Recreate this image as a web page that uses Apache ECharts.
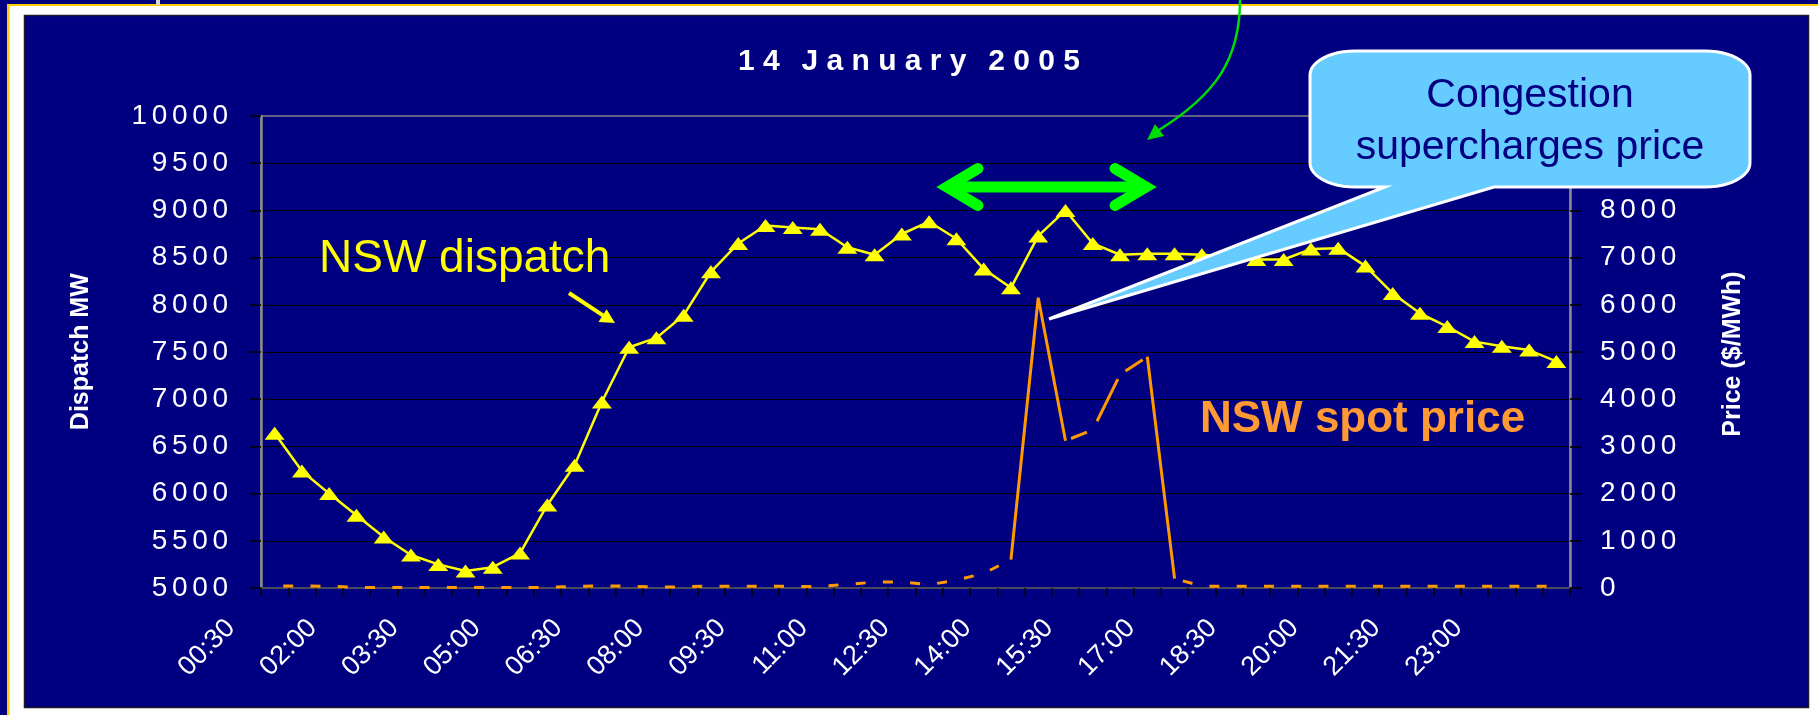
<!DOCTYPE html>
<html>
<head>
<meta charset="utf-8">
<script src="https://cdn.jsdelivr.net/npm/echarts@6/dist/echarts.min.js"></script>
<style>
html,body{margin:0;padding:0;background:#ffffff;}
#chart{width:1818px;height:715px;}
</style>
</head>
<body>
<div id="chart"></div>
<script>
// ---------- data ----------
const titleText = "14 January 2005";
const times = ["00:30","01:00","01:30","02:00","02:30","03:00","03:30","04:00","04:30","05:00","05:30","06:00",
  "06:30","07:00","07:30","08:00","08:30","09:00","09:30","10:00","10:30","11:00","11:30","12:00",
  "12:30","13:00","13:30","14:00","14:30","15:00","15:30","16:00","16:30","17:00","17:30","18:00",
  "18:30","19:00","19:30","20:00","20:30","21:00","21:30","22:00","22:30","23:00","23:30","24:00"];
const dispatchMW = [6640,6240,6000,5770,5540,5350,5250,5180,5220,5370,5880,6300,
  6970,7550,7650,7890,8350,8650,8840,8820,8800,8610,8530,8750,
  8880,8700,8380,8180,8730,9000,8650,8530,8540,8540,8530,8510,
  8480,8480,8590,8600,8410,8120,7910,7770,7610,7560,7520,7400];
const spotPrice = [42,42,38,12,8,8,8,8,8,8,12,35,
  46,40,20,25,40,35,35,35,32,75,125,130,
  70,165,310,600,6150,3120,3350,4520,4900,200,40,35,
  38,35,36,35,38,35,36,38,35,36,35,35];
const dispatchAxis = {min:5000, max:10000, step:500};
const priceAxis = {min:0, max:10000, step:1000};
// which price segments look solid / long-dashed in the original
const solidIdx = [27,28,29,32,33];
const longDashIdx = [29,30,31,32];

// ---------- helpers ----------
const FONT = '"Liberation Sans", Arial, sans-serif';
function spaceOut(s, gap, wordGap){
  return s.split(' ').map(w => w.split('').join(gap)).join(wordGap);
}
const lowPrice = spotPrice.map((v,i) => (i <= 27 || i >= 33) ? v : null);
const solidPrice = spotPrice.map((v,i) => solidIdx.indexOf(i) >= 0 ? v : null);
const midPrice = spotPrice.map((v,i) => longDashIdx.indexOf(i) >= 0 ? v : null);

// callout outline: rounded box (elliptical corners) with a pointer wedge
function calloutPoints(x1, y1, x2, y2, rx, ry, wedgeL, wedgeR, tip){
  const pts = [];
  function arc(cx, cy, a0, a1){
    const n = 12;
    for (let k = 0; k <= n; k++){
      const a = a0 + (a1 - a0) * k / n;
      pts.push([cx + rx * Math.cos(a), cy + ry * Math.sin(a)]);
    }
  }
  arc(x2 - rx, y1 + ry, -Math.PI/2, 0);
  arc(x2 - rx, y2 - ry, 0, Math.PI/2);
  pts.push([wedgeR, y2]); pts.push(tip); pts.push([wedgeL, y2]);
  arc(x1 + rx, y2 - ry, Math.PI/2, Math.PI);
  arc(x1 + rx, y1 + ry, Math.PI, Math.PI*1.5);
  return pts;
}

const chart = echarts.init(document.getElementById('chart'), null, {renderer:'canvas'});

const option = {
  animation: false,
  backgroundColor: '#ffffff',
  title: {
    text: spaceOut(titleText, ' ', '  \u2006'),
    left: 'center',
    top: 42,
    textStyle: {color:'#ffffff', fontSize:30, fontWeight:'bold', fontFamily:FONT, lineHeight:30}
  },
  grid: {
    left: 261, right: 248, top: 116, bottom: 127,
    show: true, borderColor: '#808080', borderWidth: 1.5, backgroundColor: 'transparent',
    containLabel: false
  },
  xAxis: {
    type: 'category',
    data: times,
    boundaryGap: true,
    axisLine: {show:true, lineStyle:{color:'#404050', width:1.5}},
    axisTick: {show:true, interval:0, length:8, lineStyle:{color:'#000000', width:1.5}},
    axisLabel: {
      interval: 2, rotate: 45, color:'#ffffff', fontSize:27, fontFamily:FONT,
      margin: -8, padding: [0, 62, 0, 0]
    },
    splitLine: {show:false}
  },
  yAxis: [
    {
      type: 'value', position: 'left',
      min: dispatchAxis.min, max: dispatchAxis.max, interval: dispatchAxis.step,
      axisLine: {show:true, lineStyle:{color:'#8a8a8a', width:2.5}},
      axisTick: {show:true, length:11, lineStyle:{color:'#000000', width:1.5}},
      axisLabel: {color:'#ffffff', fontSize:28, fontFamily:FONT, margin:33,
        formatter: v => spaceOut(String(v), '\u2006', ' ')},
      splitLine: {show:true, showMinLine:false, showMaxLine:false, lineStyle:{color:'#000000', width:1.2}}
    },
    {
      type: 'value', position: 'right',
      min: priceAxis.min, max: priceAxis.max, interval: priceAxis.step,
      axisLine: {show:true, lineStyle:{color:'#8a8a8a', width:2.5}},
      axisTick: {show:true, length:12, lineStyle:{color:'#000000', width:1.5}},
      axisLabel: {color:'#ffffff', fontSize:28, fontFamily:FONT, margin:30,
        formatter: v => spaceOut(String(v), '\u2006', ' ')},
      splitLine: {show:false}
    }
  ],
  series: [
    {
      name: 'NSW spot price (low)', type: 'line', yAxisIndex: 1, data: lowPrice,
      showSymbol: false, symbol: 'none', connectNulls: false, z: 2, silent: true,
      lineStyle: {color:'#FF9900', width:3, type:[10, 17.27], dashOffset:18.67}
    },
    {
      name: 'NSW spot price (spike)', type: 'line', yAxisIndex: 1, data: solidPrice,
      showSymbol: false, symbol: 'none', connectNulls: false, z: 2, silent: true,
      lineStyle: {color:'#FF9900', width:3}
    },
    {
      name: 'NSW spot price (mid)', type: 'line', yAxisIndex: 1, data: midPrice,
      showSymbol: false, symbol: 'none', connectNulls: false, z: 2, silent: true,
      lineStyle: {color:'#FF9900', width:3, type:[17, 16, 47, 11.5, 20.5, 100], dashOffset:206}
    },
    {
      name: 'NSW dispatch', type: 'line', yAxisIndex: 0, data: dispatchMW,
      symbol: 'triangle', symbolSize: [20, 13], showAllSymbol: true, z: 3, silent: true,
      itemStyle: {color:'#FFFF00', borderWidth:0},
      lineStyle: {color:'#FFFF00', width:2.5}
    }
  ],
  graphic: [
    // slide frame
    {type:'rect', z:-10, silent:true, shape:{x:0,y:0,width:1818,height:715}, style:{fill:'#ffffff'}},
    {type:'rect', z:-9, silent:true, shape:{x:0,y:0,width:1818,height:4}, style:{fill:'#000080'}},
    {type:'rect', z:-9, silent:true, shape:{x:0,y:0,width:7,height:715}, style:{fill:'#000080'}},
    {type:'rect', z:-8, silent:true, shape:{x:7,y:4,width:1811,height:2}, style:{fill:'#FFCC00'}},
    {type:'rect', z:-8, silent:true, shape:{x:7,y:4,width:2.6,height:711}, style:{fill:'#FFCC00'}},
    {type:'rect', z:-8, silent:true, shape:{x:156,y:0,width:4,height:5}, style:{fill:'#d8d8d8'}},
    {type:'rect', z:-7, silent:true, shape:{x:24.5,y:15.5,width:1784,height:692}, style:{fill:'#000080', stroke:'#1a1a2a', lineWidth:1.5}},
    // axis titles
    {type:'text', z:50, silent:true, x:81.5, y:351.7, rotation:Math.PI/2,
      style:{text:'Dispatch MW', fill:'#ffffff', font:'bold 25px ' + FONT, align:'center', verticalAlign:'middle'}},
    {type:'text', z:50, silent:true, x:1733, y:354, rotation:Math.PI/2,
      style:{text:'Price ($/MWh)', fill:'#ffffff', font:'bold 25px ' + FONT, align:'center', verticalAlign:'middle'}},
    // series annotations
    {type:'text', z:50, silent:true, x:319, y:259,
      style:{text:'NSW dispatch', fill:'#FFFF00', font:'46px ' + FONT, align:'left', verticalAlign:'middle'}},
    {type:'polyline', z:50, silent:true, shape:{points:[[569,293],[603,315.4]]}, style:{stroke:'#FFFF00', lineWidth:4, fill:null}},
    {type:'polygon', z:50, silent:true, shape:{points:[[615,323],[598.5,322],[606.6,309.2]]}, style:{fill:'#FFFF00'}},
    {type:'text', z:50, silent:true, x:1200, y:420,
      style:{text:'NSW spot price', fill:'#FF9933', font:'bold 44px ' + FONT, align:'left', verticalAlign:'middle'}},
    // green double arrow
    {type:'polyline', z:60, silent:true, shape:{points:[[947,187],[1146,187]]}, style:{stroke:'#00FF00', lineWidth:11, fill:null}},
    {type:'polyline', z:60, silent:true, shape:{points:[[978,168.5],[947,187],[978,205.5]]},
      style:{stroke:'#00FF00', lineWidth:11, fill:null, lineCap:'round', lineJoin:'miter', miterLimit:10}},
    {type:'polyline', z:60, silent:true, shape:{points:[[1115,168.5],[1146,187],[1115,205.5]]},
      style:{stroke:'#00FF00', lineWidth:11, fill:null, lineCap:'round', lineJoin:'miter', miterLimit:10}},
    // green curved arrow
    {type:'bezierCurve', z:60, silent:true, shape:{x1:1240,y1:0,cpx1:1240,cpy1:60,cpx2:1215,cpy2:95,x2:1159,y2:130},
      style:{stroke:'#00DD00', lineWidth:2.5, fill:null}},
    {type:'polygon', z:60, silent:true, shape:{points:[[1147,140],[1164,136],[1155,124]]}, style:{fill:'#00DD00'}},
    // callout
    {type:'polygon', z:80, silent:true,
      shape:{points: calloutPoints(1310, 51, 1750, 187, 45, 24, 1385, 1494, [1049, 319])},
      style:{fill:'#66CCFF', stroke:'#ffffff', lineWidth:3, lineJoin:'miter'}},
    {type:'text', z:81, silent:true, x:1530, y:95.6,
      style:{text:'Congestion', fill:'#000080', font:'41px ' + FONT, align:'center', verticalAlign:'middle'}},
    {type:'text', z:81, silent:true, x:1530, y:147.3,
      style:{text:'supercharges price', fill:'#000080', font:'41px ' + FONT, align:'center', verticalAlign:'middle'}}
  ]
};
chart.setOption(option);
</script>
</body>
</html>
